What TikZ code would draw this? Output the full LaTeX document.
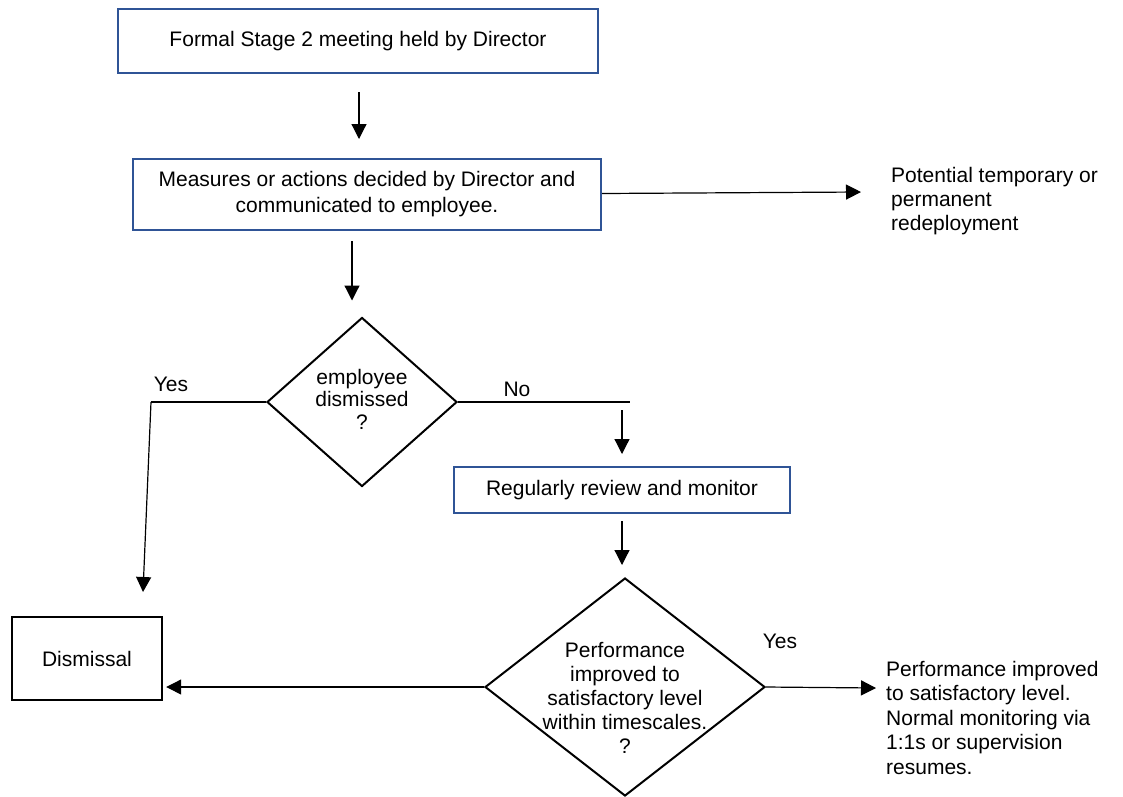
\documentclass[tikz,border=0pt]{standalone}
\usepackage{fontspec}
\setmainfont{Liberation Sans}
\usetikzlibrary{shapes.geometric,arrows.meta}
\definecolor{boxblue}{RGB}{47,84,150}
\begin{document}
\begin{tikzpicture}[x=1pt,y=-1pt,
  every node/.style={font=\fontsize{21}{24}\selectfont, inner sep=0pt},
  bluebox/.style={draw=boxblue, line width=2pt, align=center},
  blackbox/.style={draw=black, line width=2.4pt, align=center},
  decision/.style={diamond, draw=black, line width=2pt, inner sep=0pt},
  dectext/.style={align=center},
  sidetext/.style={align=left, anchor=north west},
  lbl/.style={},
  conn/.style={draw=black, line width=1.2pt},
  arr/.style={conn, -{Triangle[length=15pt,width=15pt]}}
]
\useasboundingbox (0,0) rectangle (1123,796);

% boxes
\node[bluebox, minimum width=480pt, minimum height=64pt] (b1) at (358,41) {Formal Stage 2 meeting held by Director};
\node[bluebox, minimum width=468pt, minimum height=71pt, font=\fontsize{21}{26}\selectfont] (b2) at (367,194.5) {Measures or actions decided by Director and\\communicated to employee.};
\node[bluebox, minimum width=336pt, minimum height=46pt] (b3) at (622,490) {Regularly review and monitor};
\node[blackbox, minimum width=150pt, minimum height=83pt] (dis) at (87,658.5) {Dismissal};

% decisions
\node[decision, minimum width=190pt, minimum height=169pt] (d1) at (362,402) {};
\node[dectext, font=\fontsize{21}{22.5}\selectfont] (d1t) at (362,399) {employee\\dismissed\\?};
\node[decision, minimum width=280pt, minimum height=218pt] (d2) at (625,687) {};
\node[dectext] (d2t) at (625,698) {Performance\\improved to\\satisfactory level\\within timescales.\\?};

% side texts
\node[sidetext] (pot) at (891,167) {Potential temporary or\\permanent\\redeployment};
\node[sidetext, font=\fontsize{21}{24.4}\selectfont] (res) at (886,661) {Performance improved\\to satisfactory level.\\Normal monitoring via\\1:1s or supervision\\resumes.};

% labels
\node[lbl] (yes1) at (171,384) {Yes};
\node[lbl] (no1) at (517,389) {No};
\node[lbl] (yes2) at (780,641) {Yes};

% helper coordinates
\coordinate (c1) at ([xshift=1pt]b1.south);
\coordinate (potin) at (861,192);
\coordinate (c3) at ([xshift=-15pt]b2.south);
\path (d1.west) ++(-115,0) coordinate (ycorner);
\coordinate (ytip) at (143,592);
\path (d1.east) ++(172,0) coordinate (ncorner);
\coordinate (ns) at (622,410);
\coordinate (rtip) at (876,688);

% connectors
\draw[arr, shorten <=18pt, shorten >=19pt] (c1) -- (c1 |- b2.north);
\draw[arr] ([yshift=1pt]b2.east) -- (potin);
\draw[arr, shorten <=10pt, shorten >=16pt] (c3) -- (c3 |- d1.north);
\draw[conn] (d1.west) -- (ycorner);
\draw[arr] (ycorner) -- (ytip);
\draw[conn] (d1.east) -- (ncorner);
\draw[arr, shorten >=12pt] (ns) -- (b3.north);
\draw[arr, shorten <=7pt, shorten >=12pt] (b3.south) -- (b3.south |- d2.north);
\draw[arr, shorten >=3pt] (d2.west) -- (d2.west -| dis.east);
\draw[arr] (d2.east) -- (rtip);
\end{tikzpicture}
\end{document}
